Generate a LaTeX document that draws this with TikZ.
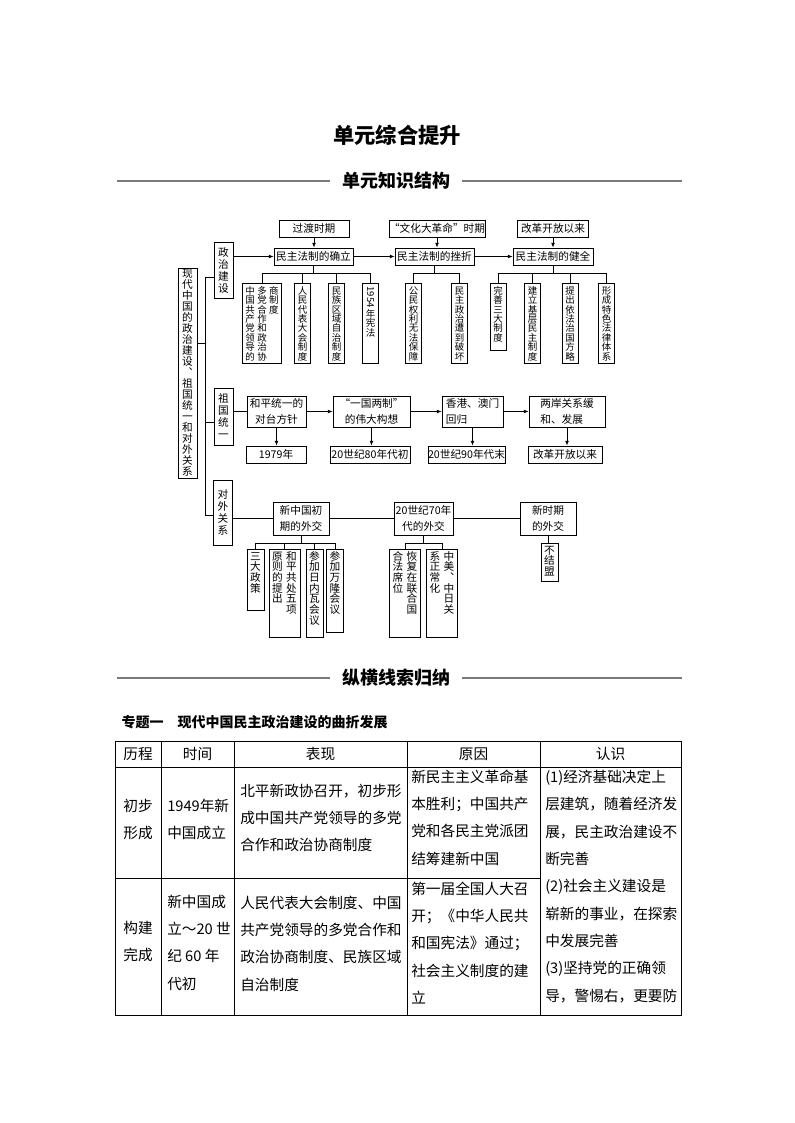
\documentclass[tikz,border=0pt]{standalone}
\usepackage{fontspec}
\setmainfont{Noto Sans CJK SC}
\usetikzlibrary{arrows.meta,calc,positioning}
\definecolor{rulegray}{HTML}{7A7A7A}
\newcommand{\vcol}[1]{\parbox[t]{1em}{\centering #1}}
\tikzset{
  boxline/.style={draw,line width=0.6pt,inner sep=0pt,align=center,font=\fontsize{8}{12}\selectfont},
  stagebox/.style={boxline,minimum height=12.75pt,minimum width=#1},
  pairbox/.style={boxline,minimum height=23.25pt,minimum width=#1},
  catbox/.style={draw,line width=0.6pt,inner sep=0pt,minimum width=14.25pt,font=\fontsize{8}{9}\selectfont},
  rootbox/.style={catbox,minimum height=157.5pt,font=\fontsize{8}{8.25}\selectfont},
  leaf/.style={draw,line width=0.6pt,anchor=north,inner xsep=2.4pt,inner ysep=1.5pt,text height=6.5pt,text depth=50.5pt,font=\fontsize{#1}{#1}\selectfont},
  leaf/.default=7.1,
  link/.style={line width=0.6pt},
  arr/.style={link,-{Latex[length=3.5pt,width=2.8pt]}},
  headrule/.style={rulegray,line width=0.8pt},
  tabrule/.style={line width=0.7pt},
  headline/.style={font=\fontsize{13.5}{13.5}\selectfont\bfseries,inner xsep=9pt},
  headcell/.style={font=\fontsize{11}{11}\selectfont},
  celltext/.style={anchor=west,align=left,inner sep=0pt,font=\fontsize{11}{20.5}\selectfont},
  midcell/.style={align=center,inner sep=0pt,font=\fontsize{11}{20.5}\selectfont}
}

\begin{document}
\begin{tikzpicture}[x=0.75pt,y=-0.75pt]
  \fill[white] (0,0) rectangle (794,1123);
  \useasboundingbox (0,0) rectangle (794,1123);

  \node[font=\fontsize{16}{16}\selectfont\bfseries] (title) at (397,135) {单元综合提升};
  \node[headline] (head1) at (396,181) {单元知识结构};
  \draw[headrule] (117,181) -- (head1.west);
  \draw[headrule] (head1.east) -- (682,181);

  \node[rootbox] (root) at (187.5,373) {\vcol{现\\代\\中\\国\\的\\政\\治\\建\\设\\︑\\祖\\国\\统\\一\\和\\对\\外\\关\\系}};
  \node[catbox,minimum height=42pt] (pol) at (223.5,270) {\vcol{政\\治\\建\\设}};
  \node[catbox,minimum height=42.75pt] (uni) at (223.5,416.5) {\vcol{祖\\国\\统\\一}};
  \node[catbox,minimum height=48.75pt] (dip) at (223,512.5) {\vcol{对\\外\\关\\系}};
  \coordinate (tk0) at (205,343);
  \coordinate (tk1) at (205,277);
  \coordinate (tk2) at (205,422);
  \coordinate (tk3) at (205,515);
  \draw[link] (tk1) -- (tk3);
  \draw[link] (root.east |- tk0) -- (tk0);
  \draw[link] (tk1) -- (tk1 -| pol.west);
  \draw[link] (tk2) -- (tk2 -| uni.west);
  \draw[link] (tk3) -- (tk3 -| dip.west);

  \node[stagebox=52.5pt] (trans) at (314,228.5) {过渡时期};
  \node[stagebox=66pt] (cult) at (437,228.5) {“文化大革命”时期};
  \node[stagebox=53.25pt] (reform) at (553,228.5) {改革开放以来};
  \node[stagebox=59.25pt] (found) at (313.5,256.5) {民主法制的确立};
  \node[stagebox=59.25pt] (setback) at (434.5,256.5) {民主法制的挫折};
  \node[stagebox=60pt] (sound) at (553,256.5) {民主法制的健全};
  \draw[arr] (trans.south) -- (trans.south |- found.north);
  \draw[arr] (cult.south) -- (cult.south |- setback.north);
  \draw[arr] (reform.south) -- (reform.south |- sound.north);
  \draw[arr] (pol.east |- found) -- (found.west);
  \draw[arr] (found.east) -- (setback.west);
  \draw[arr] (setback.east) -- (sound.west);

  \node[leaf] (a1) at (262,283) {\vcol{中\\国\\共\\产\\党\\领\\导\\的}\hspace{1.8pt}\vcol{多\\党\\合\\作\\和\\政\\治\\协}\hspace{1.8pt}\vcol{商\\制\\度}};
  \node[leaf] (a2) at (302.5,283) {\vcol{人\\民\\代\\表\\大\\会\\制\\度}};
  \node[leaf] (a3) at (336.5,283) {\vcol{民\\族\\区\\域\\自\\治\\制\\度}};
  \node[leaf] (a4) at (370.5,283) {\vcol{\raisebox{5.5pt}{\rotatebox{-90}{1954}}\\年\\宪\\法}};
  \node[leaf] (b1) at (413.5,283) {\vcol{公\\民\\权\\利\\无\\法\\保\\障}};
  \node[leaf] (b2) at (459.5,283) {\vcol{民\\主\\政\\治\\遭\\到\\破\\坏}};
  \node[leaf,text depth=40.75pt] (d1) at (498,283) {\vcol{完\\善\\三\\大\\制\\度}};
  \node[leaf] (d2) at (532.5,283) {\vcol{建\\立\\基\\层\\民\\主\\制\\度}};
  \node[leaf] (d3) at (570,283) {\vcol{提\\出\\依\\法\\治\\国\\方\\略}};
  \node[leaf] (d4) at (606.5,283) {\vcol{形\\成\\特\\色\\法\\律\\体\\系}};
  \draw[link] (found.south) -- ++(0,8) coordinate (fa);
  \draw[link] (setback.south) -- ++(0,8) coordinate (sa);
  \draw[link] (sound.south) -- ++(0,8) coordinate (ha);
  \draw[link] (fa -| a1.north) -- (fa -| a4.north);
  \draw[link] (sa -| b1.north) -- (sa -| b2.north);
  \draw[link] (ha -| d1.north) -- (ha -| d4.north);
  \foreach \n in {a1,a2,a3,a4,b1,b2,d1,d2,d3,d4}
    \draw[link] (\n.north) -- (\n.north |- fa);

  \node[pairbox=44.25pt] (peace) at (276.5,411.5) {和平统一的\\对台方针};
  \node[pairbox=57.75pt] (twosys) at (371.5,411.5) {“一国两制”\\的伟大构想};
  \node[pairbox=45.75pt,align=left] (hkmo) at (472.5,411.5) {香港、澳门\\回归};
  \node[pairbox=57pt,align=left] (strait) at (567,411.5) {两岸关系缓\\和、发展};
  \node[stagebox=45pt] (y79) at (276,454.5) {1979年};
  \node[stagebox=60pt] (y80) at (370,454.5) {20世纪80年代初};
  \node[stagebox=57.75pt] (y90) at (466.5,454.5) {20世纪90年代末};
  \node[stagebox=55.5pt] (reform2) at (565,454.5) {改革开放以来};
  \draw[link] (uni.east |- peace) -- (peace.west);
  \draw[arr] (peace.east) -- (twosys.west);
  \draw[arr] (twosys.east) -- (hkmo.west);
  \draw[arr] (hkmo.east) -- (strait.west);
  \draw[arr] (peace.south) -- (peace.south |- y79.north);
  \draw[arr] (twosys.south) -- (twosys.south |- y80.north);
  \draw[arr] (hkmo.south) -- (hkmo.south |- y90.north);
  \draw[arr] (strait.south) -- (strait.south |- reform2.north);

  \node[pairbox=42pt,minimum height=24.75pt] (early) at (301,518.5) {新中国初\\期的外交};
  \node[pairbox=44.25pt,minimum height=24.75pt] (seventies) at (423.5,518.5) {20世纪70年\\代的外交};
  \node[pairbox=42pt,minimum height=24.75pt] (newera) at (548,518.5) {新时期\\的外交};
  \draw[link] (dip.east |- early) -- (early.west);
  \draw[link] (early.east) -- (seventies.west);
  \draw[link] (seventies.east) -- (newera.west);

  \node[leaf=8,text depth=36.25pt] (g1) at (255.5,549) {\vcol{三\\大\\政\\策}};
  \node[leaf=8,text depth=56.5pt] (g2) at (284.5,549) {\vcol{原\\则\\的\\提\\出}\hspace{2.4pt}\vcol{和\\平\\共\\处\\五\\项}};
  \node[leaf=8,text depth=56.5pt] (g3) at (314.5,549) {\vcol{参\\加\\日\\内\\瓦\\会\\议}};
  \node[leaf=8,text depth=52.75pt] (g4) at (335,549) {\vcol{参\\加\\万\\隆\\会\\议}};
  \node[leaf=8,text depth=56.5pt] (h1) at (405,549) {\vcol{合\\法\\席\\位}\hspace{2.4pt}\vcol{恢\\复\\在\\联\\合\\国}};
  \node[leaf=8,text depth=56.5pt] (h2) at (442,549) {\vcol{系\\正\\常\\化}\hspace{2.4pt}\vcol{中\\美\\︑\\中\\日\\关}};
  \node[leaf=8,text depth=19pt] (k1) at (549.5,543) {\vcol{不\\结\\盟}};
  \draw[link] (early.south) -- ++(0,8) coordinate (eb);
  \draw[link] (seventies.south) -- ++(0,8) coordinate (sb);
  \draw[link] (eb -| g1.north) -- (eb -| g4.north);
  \draw[link] (sb -| h1.north) -- (sb -| h2.north);
  \foreach \n in {g1,g2,g3,g4,h1,h2}
    \draw[link] (\n.north) -- (\n.north |- eb);
  \draw[link] (newera.south) -- (newera.south |- k1.north);

  \node[headline] (head2) at (396,678) {纵横线索归纳};
  \draw[headrule] (117,678) -- (head2.west);
  \draw[headrule] (head2.east) -- (682,678);
  \node[anchor=west,font=\fontsize{10.5}{10.5}\selectfont\bfseries] (topic) at (117,722) {专题一\hspace{1em}现代中国民主政治建设的曲折发展};

  \draw[tabrule] (115,741) rectangle (681,1015);
  \draw[tabrule] (115,767) -- (681,767);
  \draw[tabrule] (115,878) -- (540,878);
  \foreach \x in {161,234,407,540}
    \draw[tabrule] (\x,741) -- (\x,1015);
  \node[headcell] (hstage) at (138,754) {历程};
  \node[headcell] (htime) at (197.5,754) {时间};
  \node[headcell] (hshow) at (320.5,754) {表现};
  \node[headcell] (hcause) at (473.5,754) {原因};
  \node[headcell] (hview) at (610.5,754) {认识};

  \node[midcell] (s1) at (138,819.5) {初步\\形成};
  \node[celltext] (t1) at (167,819.5) {1949年新\\中国成立};
  \node[celltext] (p1) at (240,818) {北平新政协召开，初步形\\成中国共产党领导的多党\\合作和政治协商制度};
  \node[celltext] (c1) at (411,817.5) {新民主主义革命基\\本胜利；中国共产\\党和各民主党派团\\结筹建新中国};
  \node[celltext] (view) at (545,886.5) {(1)经济基础决定上\\层建筑，随着经济发\\展，民主政治建设不\\断完善\\(2)社会主义建设是\\崭新的事业，在探索\\中发展完善\\(3)坚持党的正确领\\导，警惕右，更要防};
  \node[midcell] (s2) at (138,941.5) {构建\\完成};
  \node[celltext] (t2) at (167,942.5) {新中国成\\立～20 世\\纪 60 年\\代初};
  \node[celltext] (p2) at (240,943.5) {人民代表大会制度、中国\\共产党领导的多党合作和\\政治协商制度、民族区域\\自治制度};
  \node[celltext] (c2) at (411,943) {第一届全国人大召\\开；《中华人民共\\和国宪法》通过；\\社会主义制度的建\\立};
\end{tikzpicture}
\end{document}
